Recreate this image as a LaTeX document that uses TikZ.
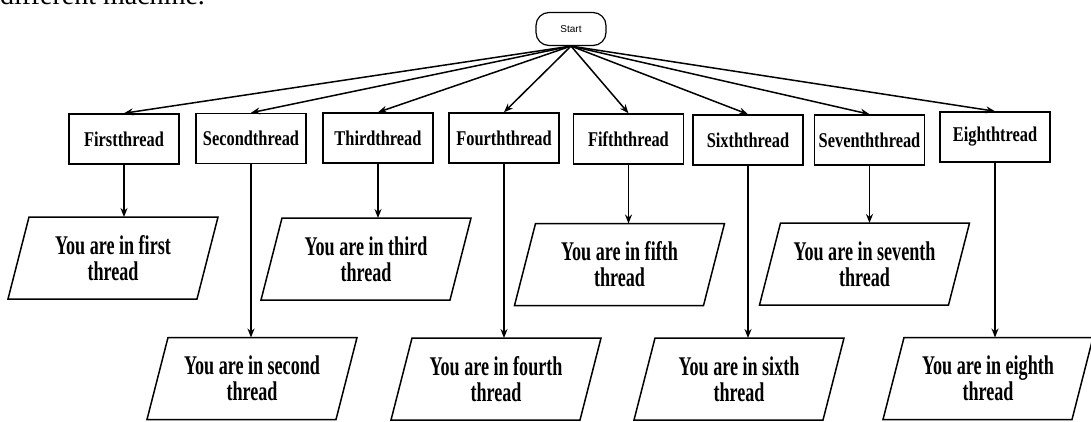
\documentclass[tikz,border=0pt]{standalone}
\usepackage{fontspec}
\setmainfont{Liberation Serif}
\newfontfamily\startfont{Liberation Sans}
\newfontfamily\boxfont[FakeStretch=0.78]{Liberation Serif}
\newfontfamily\parfont[FakeStretch=0.67]{Liberation Serif}
\usetikzlibrary{arrows.meta,calc}
\tikzset{
  line/.style={line width=1.5pt},
  arr/.style={line, -{Stealth[length=9pt,width=7pt]}},
  startbox/.style={draw,line width=1.2pt,rounded corners=13pt,minimum width=70pt,minimum height=33pt,inner sep=0pt,font=\startfont\fontsize{10}{12}\selectfont},
  threadbox/.style={draw,line,minimum width=110pt,minimum height=50pt,inner sep=0pt,font=\boxfont\bfseries\fontsize{21}{24}\selectfont},
  partext/.style={align=center,inner sep=0pt,font=\parfont\bfseries\fontsize{27}{26}\selectfont},
  toptext/.style={anchor=base west,inner sep=0pt,font=\fontsize{28}{32}\selectfont},
}
\newcommand\parabox[4]{%
  \node[partext] (#1) at (#2,#3) {#4};
  \draw[line] ($(#1)+(-105,41)$) -- ($(#1)+(84,41)$) -- ($(#1)+(105,-41)$) -- ($(#1)+(-84,-41)$) -- cycle;
  \coordinate (#1top) at ($(#1)+(10.5,-41)$);
}
\begin{document}
\begin{tikzpicture}[x=1pt,y=-1pt]
\useasboundingbox (0,0) rectangle (1091,422);
\begin{scope}
  \clip (0,0) rectangle (1091,422);
  \node[toptext] (top) at (0,5) {different machine.};
\end{scope}

\node[startbox] (start) at (571,29) {Start};

\node[threadbox] (t1) at (124,139) {Firstthread};
\node[threadbox] (t2) at (251,138.5) {Secondthread};
\node[threadbox] (t3) at (378,138) {Thirdthread};
\node[threadbox] (t4) at (504,138) {Fourththread};
\node[threadbox] (t5) at (628.5,139) {Fifththread};
\node[threadbox] (t6) at (748,140) {Sixththread};
\node[threadbox] (t7) at (869.5,140) {Sevenththread};
\node[threadbox] (t8) at (995,137) {Eighthtread};

\foreach \i in {1,...,8} {
  \draw[arr] (start.south) -- (t\i.north);
}

\parabox{p1}{113}{258}{You are in first\\thread}
\parabox{p3}{366}{259}{You are in third\\thread}
\parabox{p5}{619.5}{264.5}{You are in fifth\\thread}
\parabox{p7}{864.5}{264}{You are in seventh\\thread}
\parabox{p2}{252}{378.5}{You are in second\\thread}
\parabox{p4}{496}{379}{You are in fourth\\thread}
\parabox{p6}{739}{379}{You are in sixth\\thread}
\parabox{p8}{988}{378.5}{You are in eighth\\thread}

\foreach \i in {1,...,8} {
  \draw[arr] (t\i.south) -- (t\i.south |- p\i top);
}
\end{tikzpicture}
\end{document}
